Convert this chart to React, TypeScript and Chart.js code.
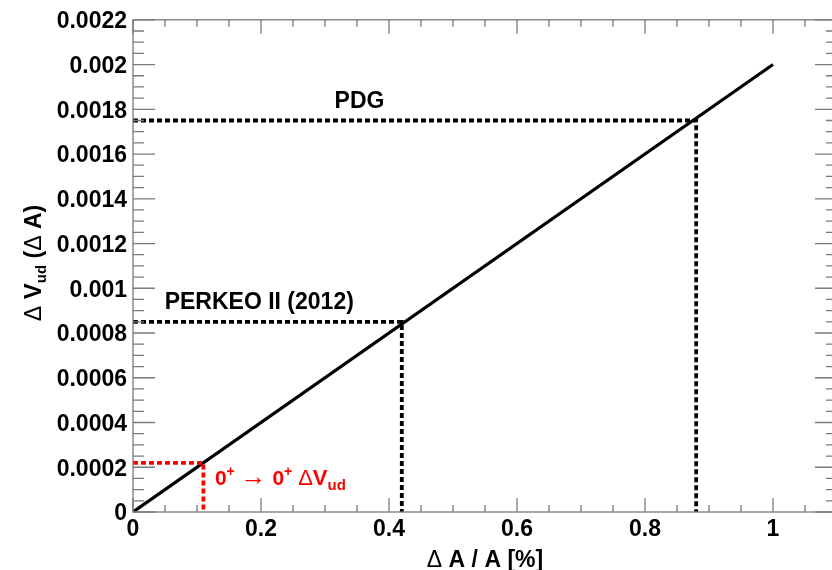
import React, { useEffect, useRef } from 'react';
import { Chart, registerables } from 'chart.js';

Chart.register(...registerables);

// ---- data ----
const mainX = [0, 1];
const mainY = [0, 0.002];
const pdgX = [0, 0.88, 0.88];
const pdgY = [0.00175, 0.00175, 0];
const perkeoX = [0, 0.42, 0.42];
const perkeoY = [0.00085, 0.00085, 0];
const superX = [0, 0.11, 0.11];
const superY = [0.00022, 0.00022, 0];

const xTickValues = [0, 0.2, 0.4, 0.6, 0.8, 1];
const xTickLabels = ['0', '0.2', '0.4', '0.6', '0.8', '1'];
const yTickValues = [0, 0.0002, 0.0004, 0.0006, 0.0008, 0.001, 0.0012, 0.0014, 0.0016, 0.0018, 0.002, 0.0022];
const yTickLabels = ['0', '0.0002', '0.0004', '0.0006', '0.0008', '0.001', '0.0012', '0.0014', '0.0016', '0.0018', '0.002', '0.0022'];

const X_MIN = 0;
const X_MAX = 1.1;
const Y_MIN = 0;
const Y_MAX = 0.0022;
const X_MINOR = 0.05;
const Y_MINOR = 0.00005;

const pts = (xs: number[], ys: number[]) => xs.map((x, i) => ({ x, y: ys[i] }));

const BOLD = (s: number) => `bold ${s}px "Liberation Sans", Arial, sans-serif`;
const NORM = (s: number) => `${s}px "Liberation Sans", "DejaVu Sans", Arial, sans-serif`;

type Seg = { t: string; f: string; dy?: number };

function segWidth(ctx: CanvasRenderingContext2D, segs: Seg[]) {
  let w = 0;
  for (const s of segs) {
    ctx.font = s.f;
    w += ctx.measureText(s.t).width;
  }
  return w;
}

function drawRich(ctx: CanvasRenderingContext2D, segs: Seg[], x: number, y: number, color: string) {
  let cx = x;
  ctx.fillStyle = color;
  ctx.textBaseline = 'alphabetic';
  ctx.textAlign = 'left';
  for (const s of segs) {
    ctx.font = s.f;
    ctx.fillText(s.t, cx, y + (s.dy || 0));
    cx += ctx.measureText(s.t).width;
  }
}

const framePlugin = {
  id: 'rootFrame',
  afterDatasetsDraw(chart: any) {
    const ctx: CanvasRenderingContext2D = chart.ctx;
    const { left, right, top, bottom } = chart.chartArea;
    const xs = chart.scales.x;
    const ys = chart.scales.y;
    ctx.save();
    ctx.strokeStyle = '#7a7a7a';
    ctx.lineWidth = 1.3;
    ctx.strokeRect(left, top, right - left, bottom - top);
    ctx.beginPath();
    // x ticks (bottom & top, inward)
    for (let i = 0; X_MIN + i * X_MINOR <= X_MAX + 1e-9; i++) {
      const v = X_MIN + i * X_MINOR;
      const isMajor = i % 4 === 0;
      const len = isMajor ? 14 : 7;
      const px = xs.getPixelForValue(v);
      ctx.moveTo(px, bottom);
      ctx.lineTo(px, bottom - len);
      ctx.moveTo(px, top);
      ctx.lineTo(px, top + len);
    }
    // y ticks (left & right, inward)
    for (let i = 0; Y_MIN + i * Y_MINOR <= Y_MAX + 1e-12; i++) {
      const v = Y_MIN + i * Y_MINOR;
      const isMajor = i % 4 === 0;
      const len = isMajor ? 22 : 11;
      const py = ys.getPixelForValue(v);
      ctx.moveTo(left, py);
      ctx.lineTo(left + len, py);
      ctx.moveTo(right, py);
      ctx.lineTo(right - len, py);
    }
    ctx.stroke();

    // annotation texts (anchored in data coordinates)
    const P = (x: number, y: number) => [xs.getPixelForValue(x), ys.getPixelForValue(y)];
    let [ax, ay] = P(0.315, 0.001805);
    drawRich(ctx, [{ t: 'PDG', f: BOLD(23) }], ax, ay, '#000');
    [ax, ay] = P(0.0495, 0.000909);
    drawRich(ctx, [{ t: 'PERKEO II (2012)', f: BOLD(23) }], ax, ay, '#000');
    [ax, ay] = P(0.128, 0.00012);
    drawRich(
      ctx,
      [
        { t: '0', f: BOLD(21) },
        { t: '+', f: BOLD(14), dy: -9 },
        { t: ' ', f: BOLD(21) },
        { t: '\u2192', f: NORM(26) },
        { t: ' ', f: BOLD(21) },
        { t: '0', f: BOLD(21) },
        { t: '+', f: BOLD(14), dy: -9 },
        { t: ' ', f: BOLD(21) },
        { t: '\u0394', f: NORM(22) },
        { t: 'V', f: BOLD(22) },
        { t: 'ud', f: BOLD(15), dy: 5 },
      ],
      ax,
      ay,
      '#ff0000'
    );

    // x-axis title
    const xt: Seg[] = [
      { t: '\u0394', f: NORM(23) },
      { t: ' A / A [%]', f: BOLD(23) },
    ];
    const xw = segWidth(ctx, xt);
    drawRich(ctx, xt, 485 - xw / 2, 567, '#000');

    // y-axis title (rotated)
    const yt: Seg[] = [
      { t: '\u0394', f: NORM(23) },
      { t: ' V', f: BOLD(24) },
      { t: 'ud', f: BOLD(15), dy: 5 },
      { t: ' (', f: BOLD(23) },
      { t: '\u0394', f: NORM(23) },
      { t: ' A)', f: BOLD(23) },
    ];
    const yw = segWidth(ctx, yt);
    ctx.translate(41, 263 + yw / 2);
    ctx.rotate(-Math.PI / 2);
    drawRich(ctx, yt, 0, 0, '#000');
    ctx.restore();
  },
};

export default function App() {
  const ref = useRef<HTMLCanvasElement | null>(null);
  useEffect(() => {
    if (!ref.current) return;
    const lineDs = (label: string, data: any, color: string, width: number, dash: number[]) => ({
      label,
      data,
      borderColor: color,
      backgroundColor: color,
      borderWidth: width,
      borderDash: dash,
      pointRadius: 0,
      fill: false,
      tension: 0,
      showLine: true,
    });
    const chart = new Chart(ref.current, {
      type: 'scatter',
      data: {
        datasets: [
          lineDs('PDG', pts(pdgX, pdgY), '#000', 3.8, [5, 3]),
          lineDs('PERKEO II (2012)', pts(perkeoX, perkeoY), '#000', 3.8, [5, 3]),
          lineDs('0+ -> 0+', pts(superX, superY), '#ff0000', 3.8, [5, 3]),
          lineDs('dV', pts(mainX, mainY), '#000', 3.2, []),
        ],
      },
      options: {
        responsive: false,
        animation: false,
        layout: { padding: { top: 16, right: 13, left: 0, bottom: 0 } },
        plugins: { legend: { display: false }, tooltip: { enabled: false }, title: { display: false } },
        scales: {
          x: {
            type: 'linear',
            min: X_MIN,
            max: X_MAX,
            grid: { display: false, drawTicks: false },
            border: { display: false },
            afterBuildTicks: (s: any) => {
              s.ticks = xTickValues.map((v) => ({ value: v }));
            },
            afterFit: (s: any) => {
              s.height = 58;
            },
            ticks: {
              padding: 4,
              color: '#000',
              font: { family: '"Liberation Sans", Arial, sans-serif', size: 23, weight: 'bold' },
              maxRotation: 0,
              autoSkip: false,
              callback: (v: any) => {
                const i = xTickValues.findIndex((t) => Math.abs(t - Number(v)) < 1e-9);
                return i >= 0 ? xTickLabels[i] : '';
              },
            },
          },
          y: {
            type: 'linear',
            min: Y_MIN,
            max: Y_MAX,
            grid: { display: false, drawTicks: false },
            border: { display: false },
            afterBuildTicks: (s: any) => {
              s.ticks = yTickValues.map((v) => ({ value: v }));
            },
            afterFit: (s: any) => {
              s.width = 133;
            },
            ticks: {
              padding: 6,
              labelOffset: 2,
              color: '#000',
              font: { family: '"Liberation Sans", Arial, sans-serif', size: 23, weight: 'bold' },
              autoSkip: false,
              callback: (v: any) => {
                const i = yTickValues.findIndex((t) => Math.abs(t - Number(v)) < 1e-12);
                return i >= 0 ? yTickLabels[i] : '';
              },
            },
          },
        },
      },
      plugins: [framePlugin],
    } as any);
    return () => chart.destroy();
  }, []);

  return (
    <div
      style={{
        position: 'fixed',
        left: 0,
        top: 0,
        width: 832,
        height: 570,
        overflow: 'hidden',
        background: '#fff',
      }}
    >
      <canvas ref={ref} width={850} height={570} style={{ width: 850, height: 570, display: 'block' }} />
    </div>
  );
}
